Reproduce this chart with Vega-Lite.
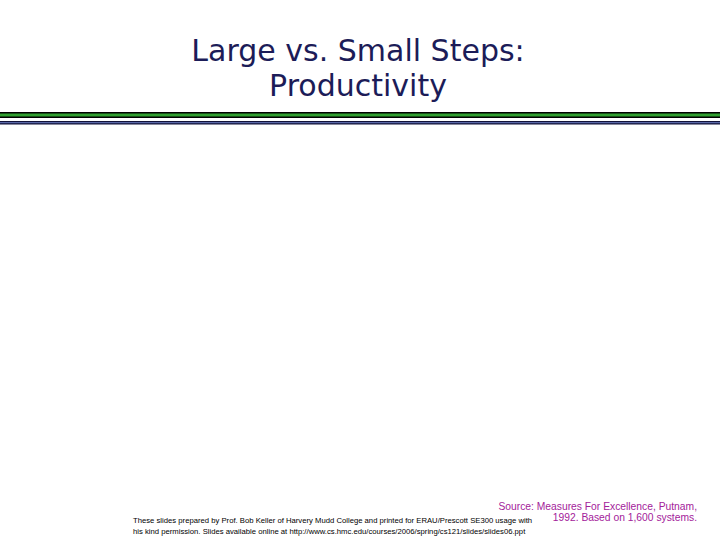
{
  "$schema": "https://vega.github.io/schema/vega-lite/v6.json",
  "width": 720,
  "height": 540,
  "autosize": {"type": "none"},
  "padding": 0,
  "background": "white",
  "config": {"view": {"stroke": null}},
  "encoding": {
    "x": {
      "field": "x",
      "type": "quantitative",
      "scale": {"domain": [0, 720], "nice": false, "zero": false},
      "axis": null
    },
    "y": {
      "field": "y",
      "type": "quantitative",
      "scale": {"domain": [0, 540], "nice": false, "zero": false, "reverse": true},
      "axis": null
    }
  },
  "layer": [
    {
      "data": {"values": [{"x": 0, "x2": 720, "y": 115}]},
      "mark": {"type": "rule", "color": "#000000", "strokeWidth": 6},
      "encoding": {"x2": {"field": "x2"}}
    },
    {
      "data": {"values": [{"x": 0, "x2": 720, "y": 115}]},
      "mark": {"type": "rule", "color": "#2f9e2f", "strokeWidth": 3},
      "encoding": {"x2": {"field": "x2"}}
    },
    {
      "data": {"values": [{"x": 0, "x2": 720, "y": 122.7}]},
      "mark": {"type": "rule", "color": "#12123a", "strokeWidth": 3.5},
      "encoding": {"x2": {"field": "x2"}}
    },
    {
      "data": {"values": [{"x": 0, "x2": 720, "y": 122.7}]},
      "mark": {"type": "rule", "color": "#5a68a8", "strokeWidth": 1.2},
      "encoding": {"x2": {"field": "x2"}}
    },
    {
      "data": {
        "values": [
          {"x": 358, "y": 61, "text": "Large vs. Small Steps:"},
          {"x": 358, "y": 96, "text": "Productivity"}
        ]
      },
      "mark": {
        "type": "text",
        "align": "center",
        "baseline": "alphabetic",
        "font": "DejaVu Sans",
        "fontSize": 30,
        "color": "#1c1c58"
      },
      "encoding": {"text": {"field": "text"}}
    },
    {
      "data": {
        "values": [
          {"x": 697, "y": 509.5, "text": "Source: Measures For Excellence, Putnam,"},
          {"x": 697, "y": 521, "text": "1992. Based on 1,600 systems."}
        ]
      },
      "mark": {
        "type": "text",
        "align": "right",
        "baseline": "alphabetic",
        "font": "Liberation Sans",
        "fontSize": 10.3,
        "color": "#a3219a"
      },
      "encoding": {"text": {"field": "text"}}
    },
    {
      "data": {
        "values": [
          {"x": 133, "y": 523, "text": "These slides prepared by Prof. Bob Keller of Harvery Mudd College and printed for ERAU/Prescott SE300 usage with"},
          {"x": 133, "y": 534, "text": "his kind permission.  Slides available online at http://www.cs.hmc.edu/courses/2006/spring/cs121/slides/slides06.ppt"}
        ]
      },
      "mark": {
        "type": "text",
        "align": "left",
        "baseline": "alphabetic",
        "font": "Liberation Sans",
        "fontSize": 7.7,
        "color": "#000000"
      },
      "encoding": {"text": {"field": "text"}}
    }
  ]
}
